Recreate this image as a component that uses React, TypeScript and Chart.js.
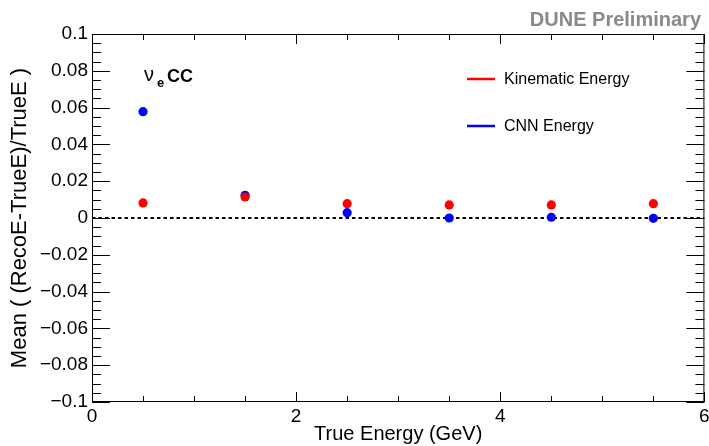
import { useEffect, useRef } from "react";
import { Chart, registerables } from "chart.js";

Chart.register(...registerables);

// ---- data ----
const trueEnergy = [0.5, 1.5, 2.5, 3.5, 4.5, 5.5];
const kinematicMean = [0.0082, 0.0114, 0.0078, 0.0071, 0.0071, 0.0078];
const cnnMean = [0.0578, 0.0123, 0.0029, 0.0, 0.0004, -0.0002];
const zeroLineX = [0, 6];
const xRange = [0, 6];
const yRange = [-0.1, 0.1];
const xMajorStep = 2;
const xMinorStep = 0.5;
const yMajorStep = 0.02;
const yMinorStep = 0.005;
const seriesLabels = ["Kinematic Energy", "CNN Energy"];
const xTitle = "True Energy (GeV)";
const yTitle = "Mean ( (RecoE-TrueE)/TrueE )";
const watermark = "DUNE Preliminary";

const FONT = "'Liberation Sans', Arial, Helvetica, sans-serif";

const fmtY = (v: number) => {
  const s = parseFloat(Number(v).toFixed(3)).toString();
  return s.replace("-", "\u2212");
};

const frameTicks = {
  id: "frameTicks",
  afterDatasetsDraw(chart: any) {
    const { ctx, chartArea, scales } = chart;
    const { left, right, top, bottom } = chartArea;
    const xs = scales.x;
    const ys = scales.y;
    ctx.save();
    ctx.strokeStyle = "#000";
    ctx.lineWidth = 1;
    ctx.strokeRect(left + 0.5, top + 0.5, right - left - 1, bottom - top - 1);

    ctx.beginPath();
    {
      const n = Math.round((xRange[1] - xRange[0]) / xMinorStep);
      for (let i = 0; i <= n; i++) {
        const v = xRange[0] + i * xMinorStep;
        const r = v / xMajorStep;
        const major = Math.abs(r - Math.round(r)) < 1e-6;
        const len = major ? 10 : 6;
        const px = Math.round(xs.getPixelForValue(v)) + 0.5;
        ctx.moveTo(px, bottom);
        ctx.lineTo(px, bottom - len);
        ctx.moveTo(px, top);
        ctx.lineTo(px, top + len);
      }
    }
    {
      const n = Math.round((yRange[1] - yRange[0]) / yMinorStep);
      for (let i = 0; i <= n; i++) {
        const v = yRange[0] + i * yMinorStep;
        const r = v / yMajorStep;
        const major = Math.abs(r - Math.round(r)) < 1e-6;
        const len = major ? 18 : 9;
        const py = Math.round(ys.getPixelForValue(v)) + 0.5;
        ctx.moveTo(left, py);
        ctx.lineTo(left + len, py);
        ctx.moveTo(right, py);
        ctx.lineTo(right - len, py);
      }
    }
    ctx.stroke();
    ctx.restore();
  },
  afterDraw(chart: any) {
    const { ctx } = chart;
    ctx.save();
    ctx.fillStyle = "#8a8a8a";
    ctx.font = `bold 20px ${FONT}`;
    ctx.textAlign = "right";
    ctx.textBaseline = "alphabetic";
    ctx.fillText(watermark, 701, 26);

    ctx.fillStyle = "#000";
    ctx.textAlign = "left";
    ctx.font = `20px ${FONT}`;
    ctx.fillText("\u03bd", 144, 81);
    ctx.font = `bold 13px ${FONT}`;
    ctx.fillText("e", 157, 87);
    ctx.font = `bold 18px ${FONT}`;
    ctx.fillText("CC", 167, 82);

    const legendY = [79, 126];
    const ds = chart.data.datasets.filter((d: any) => d.inLegend);
    ds.forEach((d: any, i: number) => {
      const y = legendY[i];
      ctx.strokeStyle = d.backgroundColor;
      ctx.lineWidth = 2.5;
      ctx.beginPath();
      ctx.moveTo(467, y);
      ctx.lineTo(495, y);
      ctx.stroke();
      ctx.fillStyle = "#000";
      ctx.font = `16px ${FONT}`;
      ctx.textBaseline = "middle";
      ctx.fillText(d.label, 504, y + 1);
    });
    ctx.restore();
  },
};

export default function App() {
  const ref = useRef<HTMLCanvasElement | null>(null);
  useEffect(() => {
    document.body.style.margin = "0";
    const canvas = ref.current;
    if (!canvas) return;
    const chart = new Chart(canvas, {
      type: "scatter",
      data: {
        datasets: [
          {
            label: seriesLabels[0],
            inLegend: true,
            data: trueEnergy.map((x, i) => ({ x, y: kinematicMean[i] })),
            backgroundColor: "#ff0000",
            borderColor: "#ff0000",
            pointRadius: 4.6,
            pointBorderWidth: 0,
            pointHoverRadius: 4.6,
          } as any,
          {
            label: seriesLabels[1],
            inLegend: true,
            data: trueEnergy.map((x, i) => ({ x, y: cnnMean[i] })),
            backgroundColor: "#0000ff",
            borderColor: "#0000ff",
            pointRadius: 4.6,
            pointBorderWidth: 0,
            pointHoverRadius: 4.6,
          } as any,
          {
            label: "zero",
            data: zeroLineX.map((x) => ({ x, y: 0 })),
            showLine: true,
            borderColor: "#000",
            backgroundColor: "#000",
            borderWidth: 2,
            borderDash: [3.5, 3],
            pointRadius: 0,
            pointHoverRadius: 0,
          } as any,
        ],
      },
      options: {
        animation: false,
        responsive: false,
        devicePixelRatio: 1,
        events: [],
        layout: { padding: { top: 34, right: 3, left: 0, bottom: 0 } },
        plugins: {
          legend: { display: false },
          tooltip: { enabled: false },
          title: { display: false },
        },
        scales: {
          x: {
            type: "linear",
            min: xRange[0],
            max: xRange[1],
            grid: { display: false, drawTicks: false },
            border: { display: false },
            ticks: {
              stepSize: xMajorStep,
              color: "#000",
              font: { family: FONT, size: 19 },
              padding: 3,
              maxRotation: 0,
              autoSkip: false,
              callback: (v: any) => String(v),
            },
            title: {
              display: true,
              text: xTitle,
              color: "#000",
              font: { family: FONT, size: 20 },
              padding: { top: 0, bottom: 0 },
            },
            afterFit: (s: any) => {
              s.height = 44;
              s.paddingLeft = 0;
              s.paddingRight = 0;
            },
          },
          y: {
            type: "linear",
            min: yRange[0],
            max: yRange[1],
            grid: { display: false, drawTicks: false },
            border: { display: false },
            ticks: {
              stepSize: yMajorStep,
              color: "#000",
              font: { family: FONT, size: 19 },
              padding: 4,
              autoSkip: false,
              callback: (v: any) => fmtY(v),
            },
            title: {
              display: true,
              text: yTitle,
              color: "#000",
              font: { family: FONT, size: 22 },
              padding: { top: 7, bottom: 0 },
            },
            afterFit: (s: any) => {
              s.width = 92;
              s.paddingTop = 0;
              s.paddingBottom = 0;
            },
          },
        },
      } as any,
      plugins: [frameTicks],
    });
    return () => chart.destroy();
  }, []);
  return (
    <div style={{ position: "absolute", left: 0, top: 0, width: 709, height: 446 }}>
      <canvas ref={ref} width={709} height={446} style={{ display: "block" }} />
    </div>
  );
}
